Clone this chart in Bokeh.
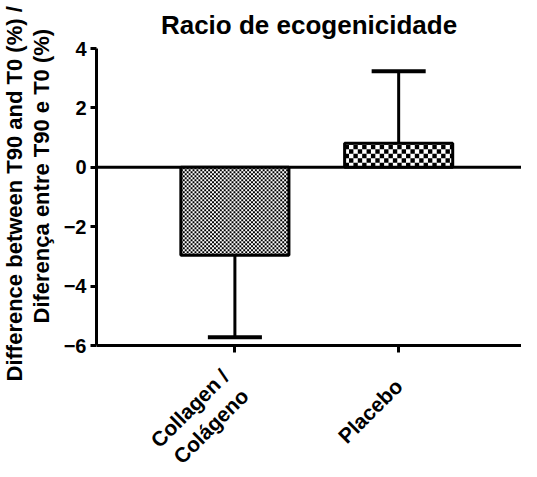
import math
import numpy as np
from bokeh.plotting import figure
from bokeh.models import Range1d, FixedTicker, Span, Title
from bokeh.embed import file_html
from bokeh.resources import INLINE

# ---- data ----
categories = ["Collagen /\nColágeno", "Placebo"]
positions = [1, 2]
means = [-2.96, 0.81]
err_ends = [-5.72, 3.23]
y_ticks = [-6, -4, -2, 0, 2, 4]
title_text = "Racio de ecogenicidade"
ylabel_lines = ["Difference between T90 and T0 (%) /", "Diferença entre T90 e T0 (%)"]

# ---- style / layout ----
FONT = "Liberation Sans"
W, H = 521, 469
BL, BT = 85, 48
X0, X1 = 0.155, 2.75
Y_TOP, Y_AXIS = 4, -6
PX_PER_Y = 29.7
Y_BOTTOM = Y_TOP - (H - BT) / PX_PER_Y   # frame reaches the canvas bottom
BAR_W = 0.66
CAP_HALF = 0.165
CHECK_PX = [2.0, 4.5]   # checker square size (px) per bar

p = figure(width=W, height=H, output_backend="svg", toolbar_location=None,
           x_range=Range1d(X0, X1), y_range=Range1d(Y_BOTTOM, Y_TOP),
           min_border_left=BL, min_border_top=BT, min_border_right=0,
           min_border_bottom=0)
p.outline_line_color = None
p.xgrid.visible = False
p.ygrid.visible = False
p.background_fill_color = "white"
p.border_fill_color = "white"

p.title.text = title_text
p.title.align = "center"
p.title.vertical_align = "top"
p.title.text_font = FONT
p.title.text_font_style = "bold"
p.title.text_font_size = "26px"
p.title.text_color = "black"
p.title.standoff = 14

px_per_x = (W - BL) / (X1 - X0)

zero = Span(location=0, dimension="width", line_color="black", line_width=3, level="underlay")
p.add_layout(zero)

# error bars (one-sided, away from zero)
p.segment(x0=positions, y0=means, x1=positions, y1=err_ends, line_color="black",
          line_width=3, line_cap="butt")
p.segment(x0=[x - CAP_HALF for x in positions], y0=err_ends,
          x1=[x + CAP_HALF for x in positions], y1=err_ends,
          line_color="black", line_width=4, line_cap="butt")

# bars: white fill, checkerboard texture, black outline
p.vbar(x=positions, top=means, bottom=0, width=BAR_W, fill_color="white", line_color=None)

L, R, B, T = [], [], [], []
for x, m, c in zip(positions, means, CHECK_PX):
    left, right = x - BAR_W / 2, x + BAR_W / 2
    lo, hi = min(0, m), max(0, m)
    dx, dy = c / px_per_x, c / PX_PER_Y
    xs = np.arange(left, right, dx)
    ys = np.arange(lo, hi, dy)
    for i, xv in enumerate(xs):
        for j, yv in enumerate(ys):
            if (i + j) % 2 == 0:
                L.append(xv); R.append(min(xv + dx, right))
                B.append(yv); T.append(min(yv + dy, hi))
p.quad(left=L, right=R, bottom=B, top=T, fill_color="black", line_color=None)

p.vbar(x=positions, top=means, bottom=0, width=BAR_W, fill_color=None,
       line_color="black", line_width=3)

# y axis (drawn only between -6 and 4)
ya = p.yaxis[0]
ya.ticker = FixedTicker(ticks=y_ticks)
ya.bounds = (Y_AXIS, Y_TOP)
ya.axis_line_width = 3
ya.major_tick_line_width = 3
ya.major_tick_out = 6
ya.major_tick_in = 0
ya.minor_tick_line_color = None
ya.major_label_text_font = FONT
ya.major_label_text_font_style = "bold"
ya.major_label_text_font_size = "20px"
ya.major_label_text_color = "black"
ya.major_label_standoff = 4

# y label: two vertical lines, placed as left-side titles
spacer = Title(text=" ", text_font_size="1px", standoff=3)
p.add_layout(spacer, "left")
for line, off in [(ylabel_lines[1], 146), (ylabel_lines[0], 88)]:
    t = Title(text=line, align="left", vertical_align="middle", offset=off,
              text_font=FONT, text_font_style="bold", text_font_size="22px",
              text_color="black", standoff=0)
    p.add_layout(t, "left")

# x axis fixed at y = -6, inside the extended frame
xa = p.xaxis[0]
xa.fixed_location = Y_AXIS
xa.ticker = FixedTicker(ticks=positions)
xa.major_label_overrides = {pos: lab for pos, lab in zip(positions, categories)}
xa.axis_line_width = 3
xa.major_tick_line_width = 3
xa.major_tick_out = 7
xa.major_tick_in = 0
xa.minor_tick_line_color = None
xa.major_label_orientation = math.pi / 4
xa.major_label_text_font = FONT
xa.major_label_text_font_style = "bold"
xa.major_label_text_font_size = "21px"
xa.major_label_text_color = "black"
xa.major_label_standoff = 30

open("out.html", "w").write(file_html(p, INLINE))
